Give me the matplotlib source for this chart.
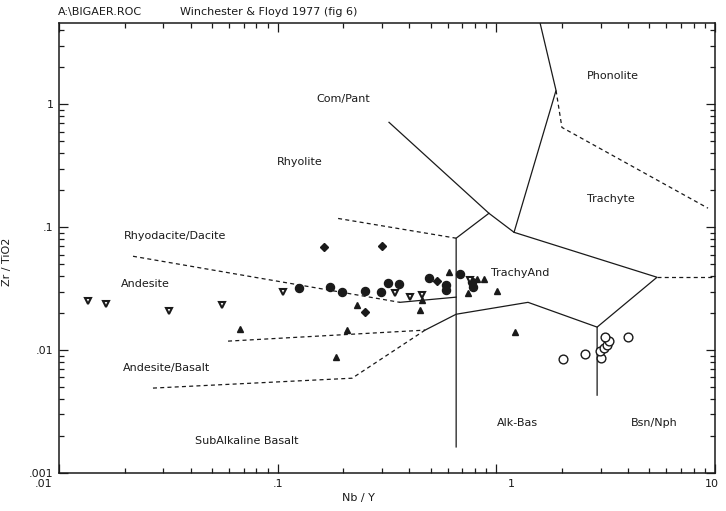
#!/usr/bin/env python3
"""Winchester & Floyd (1977, fig 6) Zr/TiO2 vs Nb/Y classification plot."""
import matplotlib
matplotlib.use("Agg")
import matplotlib.pyplot as plt
import matplotlib.transforms as mtransforms
from matplotlib.ticker import FixedLocator, LogLocator, NullFormatter

plt.rcParams["font.family"] = ["DejaVu Sans"]
FS = 8
INK = "#1a1a1a"

# ---- field boundaries (Nb/Y, Zr/TiO2) ----
# solid
pant_trachyte_x = [0.323, 0.925, 1.205, 5.43, 2.89, 2.89]
pant_trachyte_y = [0.715, 0.130, 0.091, 0.0392, 0.0154, 0.0043]
phonolite_x = [1.585, 1.875, 1.205]
phonolite_y = [4.6, 1.30, 0.091]
rhyolite_trand_x = [0.925, 0.655, 0.655]
rhyolite_trand_y = [0.130, 0.0815, 0.00163]
andesite_trand_x = [0.362, 0.655]
andesite_trand_y = [0.0245, 0.0270]
alkbas_x = [0.472, 0.655, 1.396, 2.89]
alkbas_y = [0.01455, 0.0196, 0.0245, 0.0154]
# dashed
phon_trach_x = [1.875, 1.995, 9.29]
phon_trach_y = [1.30, 0.650, 0.143]
rhyo_dac_x = [0.189, 0.655]
rhyo_dac_y = [0.118, 0.0815]
dac_and_x = [0.0218, 0.362]
dac_and_y = [0.0581, 0.0245]
and_andbas_x = [0.0593, 0.472]
and_andbas_y = [0.01184, 0.01455]
andbas_sub_x = [0.0269, 0.219, 0.472]
andbas_sub_y = [0.00491, 0.00591, 0.01455]
trach_bsn_x = [5.43, 10.0]
trach_bsn_y = [0.0392, 0.0392]

# ---- samples ----
circ_x = [0.1252, 0.1735, 0.1969, 0.2507, 0.2969, 0.3195, 0.3588, 0.492,
          0.589, 0.589, 0.682, 0.774, 0.782]
circ_y = [0.0319, 0.0325, 0.0296, 0.0302, 0.0296, 0.0350, 0.0344, 0.0385,
          0.0338, 0.0308, 0.0415, 0.0357, 0.0325]
diam_x = [0.1628, 0.300, 0.2507, 0.5355]
diam_y = [0.0688, 0.0701, 0.0204, 0.0364]
tri_x = [0.0673, 0.1848, 0.2075, 0.2306, 0.4475, 0.457, 0.6075, 0.742,
         0.816, 0.878, 1.007, 1.217]
tri_y = [0.01482, 0.00877, 0.01454, 0.0232, 0.02114, 0.0255, 0.0431, 0.0291,
         0.0378, 0.0378, 0.0302, 0.0140]
itri_x = [0.01357, 0.0164, 0.0318, 0.0556, 0.1058, 0.344, 0.403, 0.457, 0.758]
itri_y = [0.0250, 0.02366, 0.02075, 0.0232, 0.0296, 0.0291, 0.0270, 0.0280,
          0.0371]
ocirc_x = [2.018, 2.544, 3.011, 2.979, 3.107, 3.206, 3.275, 3.140, 4.0]
ocirc_y = [0.00845, 0.00928, 0.00861, 0.00982, 0.01038, 0.01098, 0.01183,
           0.01275, 0.01275]

# ---- field names ----
field_names = ["Com/Pant", "Phonolite", "Rhyolite", "Trachyte",
               "Rhyodacite/Dacite", "Andesite", "TrachyAnd", "Andesite/Basalt",
               "SubAlkaline Basalt", "Alk-Bas", "Bsn/Nph"]
field_x = [0.199, 3.4, 0.1265, 3.35, 0.0339, 0.0247, 1.283, 0.0309,
           0.0724, 1.243, 5.26]
field_y = [1.098, 1.69, 0.3376, 0.1689, 0.0845, 0.0345, 0.0423, 0.00714,
           0.00182, 0.00255, 0.00255]

x_ticks = [0.01, 0.1, 1, 10]
x_ticklabels = [".01", ".1", "1", "10"]
y_ticks = [0.001, 0.01, 0.1, 1]
y_ticklabels = [".001", ".01", ".1", "1"]

W, H = 726, 511
fig = plt.figure(figsize=(W / 100, H / 100), dpi=100)
ax = fig.add_axes([59 / W, 1 - 473 / H, 656 / W, 450 / H])
ax.set_xscale("log")
ax.set_yscale("log")
ax.set_xlim(0.01, 10)
ax.set_ylim(0.001, 4.6)

solid = dict(color=INK, lw=0.9, solid_joinstyle="miter")
dashed = dict(color=INK, lw=0.9, ls=(0, (3.2, 2.6)))
for xs, ys in ((pant_trachyte_x, pant_trachyte_y), (phonolite_x, phonolite_y),
               (rhyolite_trand_x, rhyolite_trand_y),
               (andesite_trand_x, andesite_trand_y), (alkbas_x, alkbas_y)):
    ax.plot(xs, ys, **solid)
for xs, ys in ((phon_trach_x, phon_trach_y), (rhyo_dac_x, rhyo_dac_y),
               (dac_and_x, dac_and_y), (and_andbas_x, and_andbas_y),
               (andbas_sub_x, andbas_sub_y), (trach_bsn_x, trach_bsn_y)):
    ax.plot(xs, ys, **dashed)

ax.plot(circ_x, circ_y, "o", ls="none", ms=5.8, color=INK, mec=INK)
ax.plot(diam_x, diam_y, "D", ls="none", ms=4.2, color=INK, mec=INK)
ax.plot(tri_x, tri_y, "^", ls="none", ms=5.0, color=INK, mec=INK)
ax.plot(itri_x, itri_y, "v", ls="none", ms=5.0, mfc="white", mec=INK, mew=1.5)
ax.plot(ocirc_x, ocirc_y, "o", ls="none", ms=6.3, mfc="white", mec=INK, mew=1.0)

for name, fx, fy in zip(field_names, field_x, field_y):
    ax.text(fx, fy, name, fontsize=FS, ha="center", va="center", color=INK)

# axes, ticks on all four sides pointing in
for s in ax.spines.values():
    s.set_linewidth(1.1)
    s.set_color(INK)
ax.xaxis.set_major_locator(FixedLocator(x_ticks))
ax.yaxis.set_major_locator(FixedLocator(y_ticks))
ax.xaxis.set_minor_locator(LogLocator(base=10, subs=range(2, 10)))
ax.yaxis.set_minor_locator(LogLocator(base=10, subs=range(2, 10)))
ax.xaxis.set_minor_formatter(NullFormatter())
ax.yaxis.set_minor_formatter(NullFormatter())
ax.set_xticklabels([])
ax.set_yticklabels(y_ticklabels)
ax.tick_params(which="both", direction="in", top=True, right=True,
               color=INK, labelsize=FS, labelcolor=INK)
ax.tick_params(which="major", length=6.5, width=0.9, pad=4)
ax.tick_params(which="minor", length=3.5, width=0.9)

# x tick labels are set off the ticks a little, as the plotting program did
x_label_shift = [-15, 0, 15, -3]  # px
xlab_tr = mtransforms.blended_transform_factory(ax.transData, ax.transAxes)
for v, lab, dx in zip(x_ticks, x_ticklabels, x_label_shift):
    off = mtransforms.ScaledTranslation(dx / 100, -11 / 100, fig.dpi_scale_trans)
    ax.text(v, 0, lab, transform=xlab_tr + off, fontsize=FS, color=INK,
            ha="center", va="center", clip_on=False)

ax.set_xlabel("Nb / Y", fontsize=FS, color=INK)
ax.set_ylabel("Zr / TiO2", fontsize=FS, color=INK)
ax.xaxis.set_label_coords((358 - 59) / 656, -(493 - 473) / 450)
ax.yaxis.set_label_coords(-(59 - 12) / 656, (473 - 262) / 450)

fig.text(58 / W, 1 - 12 / H, "A:\\BIGAER.ROC", fontsize=FS, va="center", color=INK)
fig.text(180 / W, 1 - 12 / H, "Winchester & Floyd 1977 (fig 6)", fontsize=FS,
         va="center", color=INK)

fig.savefig("out.png", dpi=100)
